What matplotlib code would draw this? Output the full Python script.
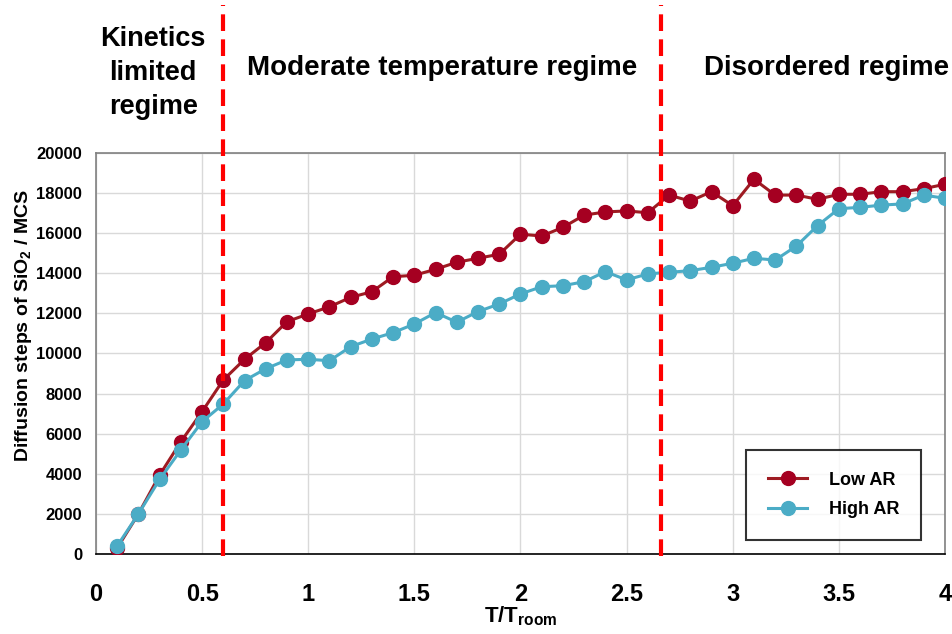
import numpy as np
import matplotlib
matplotlib.use('Agg')
import matplotlib.pyplot as plt

plt.rcParams['font.family'] = ['Liberation Sans', 'DejaVu Sans']
plt.rcParams['font.weight'] = 'bold'

temps = [0.1, 0.2, 0.3, 0.4, 0.5, 0.6, 0.7, 0.8, 0.9, 1.0,
         1.1, 1.2, 1.3, 1.4, 1.5, 1.6, 1.7, 1.8, 1.9, 2.0,
         2.1, 2.2, 2.3, 2.4, 2.5, 2.6, 2.7, 2.8, 2.9, 3.0,
         3.1, 3.2, 3.3, 3.4, 3.5, 3.6, 3.7, 3.8, 3.9, 4.0]
low_ar = [300, 2000, 3940, 5600, 7100, 8680, 9710, 10540, 11590, 11970,
          12330, 12800, 13080, 13830, 13900, 14200, 14550, 14750, 14950, 15950,
          15860, 16290, 16900, 17060, 17110, 17020, 17900, 17600, 18070, 17370,
          18690, 17900, 17900, 17690, 17940, 17940, 18070, 18070, 18220, 18440]
high_ar = [400, 2000, 3720, 5190, 6600, 7480, 8650, 9240, 9680, 9710,
           9640, 10340, 10720, 11040, 11470, 12040, 11560, 12090, 12470, 12970,
           13330, 13380, 13580, 14080, 13670, 13970, 14050, 14130, 14300, 14500,
           14750, 14660, 15360, 16380, 17220, 17290, 17400, 17460, 17900, 17740]
boundaries = [0.6, 2.66]
regime_labels = ['Kinetics\nlimited\nregime', 'Moderate temperature regime', 'Disordered regime']
regime_x = [0.27, 1.63, 3.44]

fig = plt.figure(figsize=(9.53, 6.34), dpi=100)
ax = fig.add_axes([0.1007, 0.1262, 0.8909, 0.6325])

ax.plot(temps, low_ar, color='#9e1b22', lw=2.2, marker='o', ms=10,
        mfc='#a50021', mec='#a50021', label='Low AR', zorder=3)
ax.plot(temps, high_ar, color='#4bacc6', lw=2.2, marker='o', ms=10,
        mfc='#4bacc6', mec='#4bacc6', label='High AR', zorder=4)

ax.set_xlim(0, 4)
ax.set_ylim(0, 20000)
ax.set_xticks(np.arange(0, 4.01, 0.5))
ax.set_xticklabels(['0', '0.5', '1', '1.5', '2', '2.5', '3', '3.5', '4'])
ax.set_yticks(np.arange(0, 20001, 2000))
ax.tick_params(axis='x', labelsize=17, length=0, pad=21)
ax.tick_params(axis='y', labelsize=12, length=0, pad=10)
ax.grid(True, color='#d9d9d9', lw=1)
ax.set_axisbelow(True)
for side in ['top', 'right', 'left']:
    ax.spines[side].set_color('#808080')
ax.spines['bottom'].set_color('black')
for s in ax.spines.values():
    s.set_linewidth(1.2)

ax.set_xlabel(r'T/T$_{\mathregular{room}}$', fontsize=16, fontweight='bold')
ax.xaxis.set_label_coords(0.5, -0.126)
ax.set_ylabel(r'Diffusion steps of SiO$_{\mathregular{2}}$ / MCS', fontsize=14,
              fontweight='bold')
ax.yaxis.set_label_coords(-0.073, 0.571)

tr = ax.get_xaxis_transform()
for b in boundaries:
    ax.plot([b, b], [-0.005, 1.37], transform=tr, color='#ff0000', lw=3,
            ls=(0, (4, 2)), clip_on=False, zorder=5)

ax.text(regime_x[0], 1.2, regime_labels[0], transform=tr, ha='center', va='center',
        fontsize=19.5, fontweight='bold', linespacing=1.4)
ax.text(regime_x[1], 1.212, regime_labels[1], transform=tr, ha='center', va='center',
        fontsize=20, fontweight='bold')
ax.text(regime_x[2], 1.212, regime_labels[2], transform=tr, ha='center', va='center',
        fontsize=20, fontweight='bold')

leg = ax.legend(loc='lower right', bbox_to_anchor=(0.972, 0.035), borderaxespad=0,
                fontsize=13, frameon=True, fancybox=False, edgecolor='black',
                borderpad=1.2, handlelength=2.2, labelspacing=0.7, handletextpad=1.2)
leg.get_frame().set_linewidth(1.5)

fig.savefig('out.png', dpi=100)
